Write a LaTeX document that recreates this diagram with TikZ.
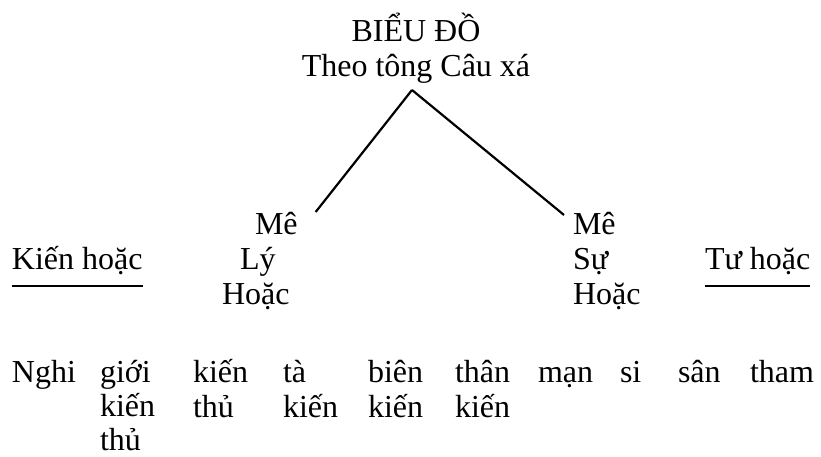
\documentclass[tikz,border=0pt]{standalone}
\usepackage{fontspec}
\setmainfont{Liberation Serif}
\usetikzlibrary{calc}
\tikzset{
  txt/.style={inner sep=0pt, outer sep=0pt, anchor=base west, align=left, font=\fontsize{32}{35}\selectfont},
  ctxt/.style={inner sep=0pt, outer sep=0pt, anchor=base, align=center, font=\fontsize{32}{35}\selectfont},
  link/.style={line width=2.2pt},
  uline/.style={line width=1.6pt}
}
\begin{document}
\begin{tikzpicture}[x=1pt,y=-1pt]
\useasboundingbox (0,0) rectangle (821,457);
% title (base = last line)
\node[ctxt] (title) at (416,77) {BIỂU ĐỒ\\Theo tông Câu xá};
\coordinate (apex) at (412,90);
% middle nodes (base = last line)
\node[txt] (ly) at (222,304) {\hspace*{33pt}Mê\\\hspace*{18pt}Lý\\Hoặc};
\node[txt] (su) at (573,304) {Mê\\Sự\\Hoặc};
\draw[link] (apex) -- ($(ly.base east)+(18,-92)$);
\draw[link] (apex) -- ($(su.base west)+(-9,-89)$);
% side labels
\node[txt] (kien) at (12,269) {Kiến hoặc};
\draw[uline] ($(kien.base west)+(0,17)$) -- ($(kien.base east)+(0,17)$);
\node[txt] (tu) at (705,269) {Tư hoặc};
\draw[uline] ($(tu.base west)+(0,17)$) -- ($(tu.base east)+(0,17)$);
% bottom row (base = last line)
\node[txt] (c1) at (12,382) {Nghi};
\node[txt, font=\fontsize{32}{34}\selectfont] (c2) at (100,450) {giới\\kiến\\thủ};
\node[txt] (c3) at (193,417) {kiến\\thủ};
\node[txt] (c4a) at (283,382) {tà};
\node[txt] (c4) at (283,417) {kiến};
\node[txt] (c5) at (368,417) {biên\\kiến};
\node[txt] (c6) at (455,417) {thân\\kiến};
\node[txt] (c7) at (538,382) {mạn};
\node[txt] (c8) at (620,382) {si};
\node[txt] (c9) at (678,382) {sân};
\node[txt] (c10) at (750,382) {tham};
\end{tikzpicture}
\end{document}
